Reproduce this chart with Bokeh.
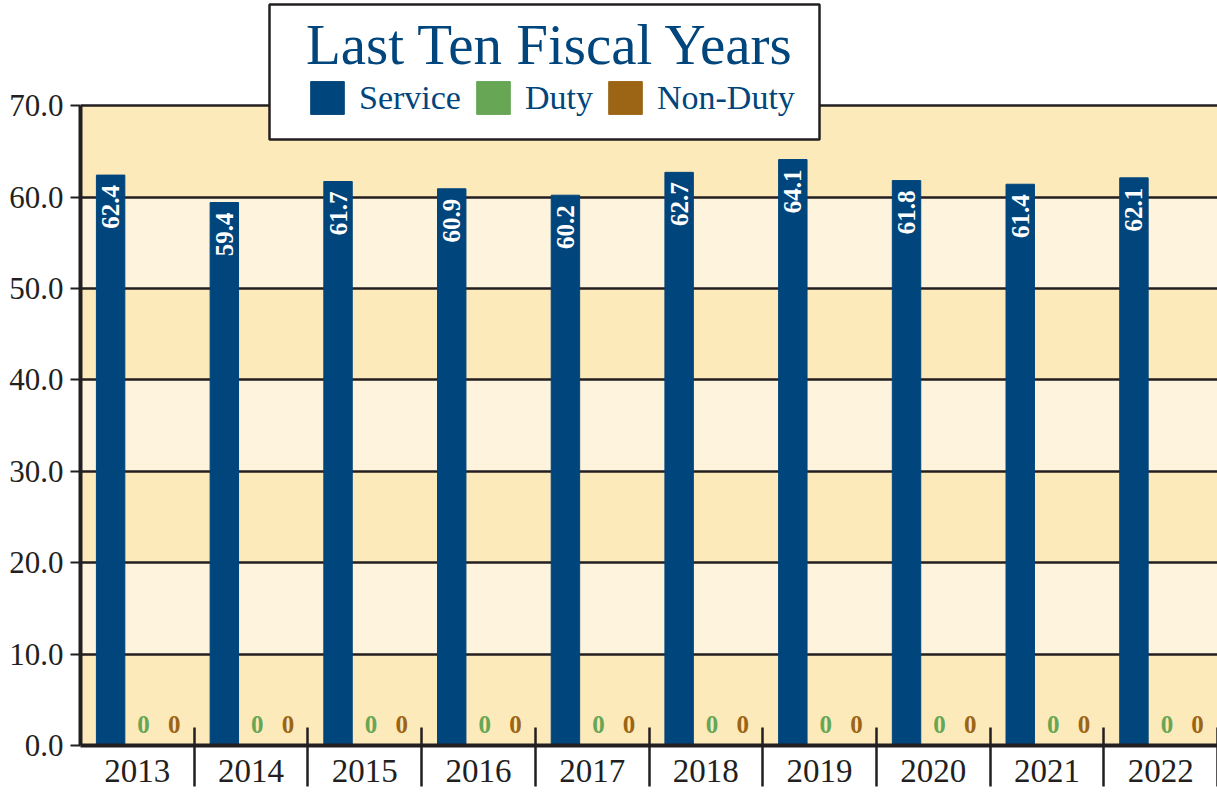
import numpy as np
from bokeh.plotting import figure
from bokeh.models import (Range1d, FixedTicker, NumeralTickFormatter, Legend, LegendItem,
                          BoxAnnotation)
from bokeh.core.properties import value
from bokeh.embed import file_html
from bokeh.resources import INLINE

# ---- data ----
years = ["2013", "2014", "2015", "2016", "2017", "2018", "2019", "2020", "2021", "2022"]
service = [62.4, 59.4, 61.7, 60.9, 60.2, 62.7, 64.1, 61.8, 61.4, 62.1]
duty = [0, 0, 0, 0, 0, 0, 0, 0, 0, 0]
non_duty = [0, 0, 0, 0, 0, 0, 0, 0, 0, 0]
y_ticks = [0, 10, 20, 30, 40, 50, 60, 70]
title_text = "Last Ten Fiscal Years"
series_names = ["Service", "Duty", "Non-Duty"]

# ---- style ----
BLUE = "#00457c"
GREEN = "#66a655"
BROWN = "#9c6516"
INK = "#231f20"
BAND_DARK = "#fdeabb"
BAND_LIGHT = "#fef3dd"
FONT = "Liberation Serif"

n = len(years)
idx = np.arange(n)
x_service = idx + 0.265
x_duty = idx + 0.555
x_non = idx + 0.825
BAR_W = 0.25

p = figure(width=1217, height=793, output_backend="svg", toolbar_location=None,
           x_range=Range1d(0, n), y_range=Range1d(0, 81.5),
           min_border_left=80, min_border_right=0, min_border_top=0, min_border_bottom=48)
p.outline_line_color = None
p.background_fill_color = "white"
p.border_fill_color = "white"

# alternating bands between the value ticks
p.add_layout(BoxAnnotation(bottom=y_ticks[0], top=y_ticks[-1], fill_color=BAND_LIGHT,
                           fill_alpha=1, line_color=None, level="image"))
for lo, hi in zip(y_ticks[0::2], y_ticks[1::2]):
    p.add_layout(BoxAnnotation(bottom=lo, top=hi, fill_color=BAND_DARK, fill_alpha=1,
                               line_color=None, level="image"))

# grid
p.xgrid.visible = False
p.ygrid.ticker = FixedTicker(ticks=y_ticks)
p.ygrid.grid_line_color = INK
p.ygrid.grid_line_width = 2.5

# bars
r_s = p.vbar(x=x_service, top=service, width=BAR_W, bottom=0, fill_color=BLUE, line_color=BLUE)
r_d = p.vbar(x=x_duty, top=duty, width=BAR_W, bottom=0, fill_color=GREEN, line_color=GREEN)
r_n = p.vbar(x=x_non, top=non_duty, width=BAR_W, bottom=0, fill_color=BROWN, line_color=BROWN)

# labels
p.text(x=x_service, y=service, text=[f"{v:.1f}" for v in service], angle=np.pi / 2,
       text_align="right", text_baseline="middle", y_offset=10,
       text_font=value(FONT), text_font_style="bold", text_font_size="25px", text_color="white")
p.text(x=x_duty, y=duty, text=[f"{v:g}" for v in duty], text_align="center", text_baseline="bottom",
       y_offset=-13, text_font=value(FONT), text_font_style="bold", text_font_size="25px", text_color=GREEN)
p.text(x=x_non, y=non_duty, text=[f"{v:g}" for v in non_duty], text_align="center", text_baseline="bottom",
       y_offset=-13, text_font=value(FONT), text_font_style="bold", text_font_size="25px", text_color=BROWN)

# y axis
yax = p.yaxis[0]
yax.ticker = FixedTicker(ticks=y_ticks)
yax.bounds = (y_ticks[0], y_ticks[-1])
yax.formatter = NumeralTickFormatter(format="0.0")
yax.axis_line_color = INK
yax.axis_line_width = 4
yax.major_tick_line_color = INK
yax.major_tick_line_width = 2
yax.major_tick_out = 10
yax.major_tick_in = 0
yax.minor_tick_line_color = None
yax.major_label_standoff = 7
yax.major_label_text_font = FONT
yax.major_label_text_font_size = "31px"
yax.major_label_text_color = INK

# x axis
xax = p.xaxis[0]
centers = [i + 0.5 for i in range(n)]
xax.ticker = FixedTicker(ticks=centers, minor_ticks=list(range(1, n + 1)))
xax.major_label_overrides = {c: y for c, y in zip(centers, years)}
xax.axis_line_color = INK
xax.axis_line_width = 4
xax.major_tick_line_color = None
xax.major_tick_out = 0
xax.major_tick_in = 0
xax.minor_tick_line_color = INK
xax.minor_tick_line_width = 2.5
xax.minor_tick_in = 18
xax.minor_tick_out = 41
xax.major_label_standoff = -27
xax.major_label_text_font = FONT
xax.major_label_text_font_size = "33px"
xax.major_label_text_color = INK

# framed box holding title and legend
p.add_layout(BoxAnnotation(left=269, right=819, top=4, bottom=139,
                           left_units="canvas", right_units="canvas",
                           top_units="canvas", bottom_units="canvas",
                           fill_color="white", fill_alpha=1,
                           line_color=INK, line_alpha=1, line_width=2.5))

legend = Legend(items=[LegendItem(label=series_names[0], renderers=[r_s]),
                       LegendItem(label=series_names[1], renderers=[r_d]),
                       LegendItem(label=series_names[2], renderers=[r_n])],
                title=title_text, orientation="horizontal", location=(226, 627))
legend.title_text_font = FONT
legend.title_text_font_size = "57px"
legend.title_text_font_style = "normal"
legend.title_text_color = BLUE
legend.title_standoff = 0
legend.label_text_font = FONT
legend.label_text_font_size = "34px"
legend.label_text_color = BLUE
legend.glyph_width = 42
legend.glyph_height = 41
legend.label_standoff = 11
legend.spacing = 11
legend.padding = 10
legend.margin = 0
legend.border_line_color = None
legend.background_fill_alpha = 0
p.add_layout(legend, "center")

open("out.html", "w").write(file_html(p, INLINE))
